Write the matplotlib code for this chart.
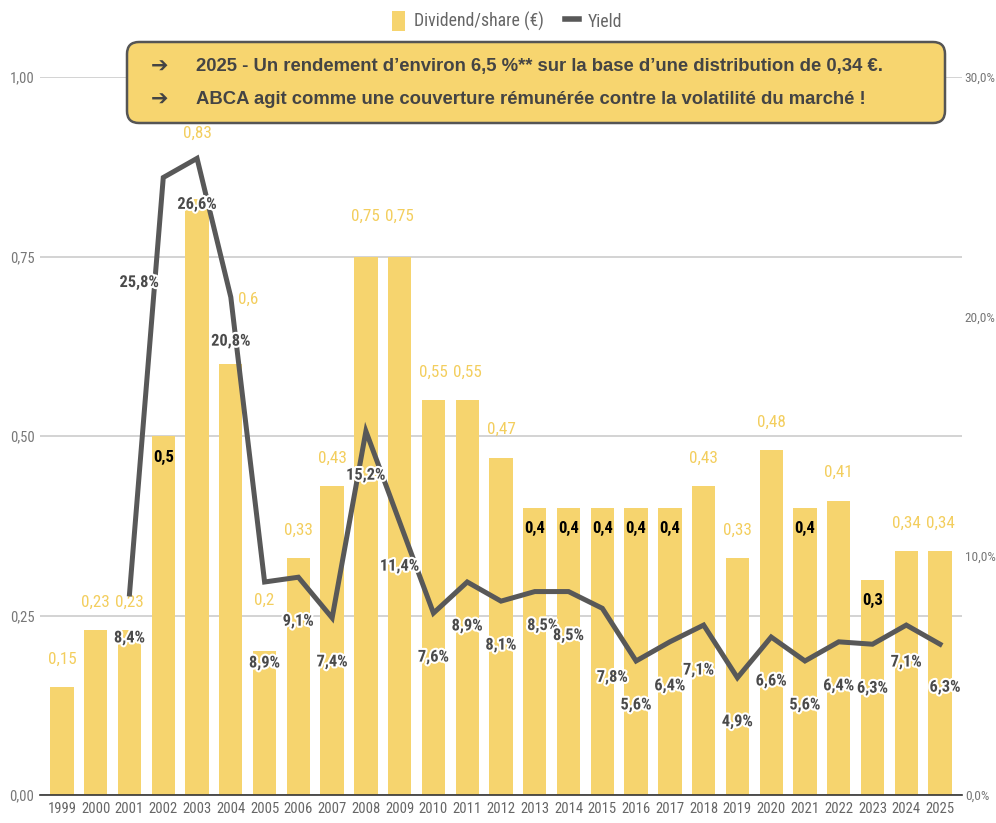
import numpy as np
import matplotlib
matplotlib.use("Agg")
import matplotlib.pyplot as plt
from matplotlib import font_manager as fm
from matplotlib.patches import FancyBboxPatch, Patch
from matplotlib.lines import Line2D
import matplotlib.patheffects as pe

years = [str(y) for y in range(1999, 2026)]
dividend = [0.15, 0.23, 0.23, 0.5, 0.83, 0.6, 0.2, 0.33, 0.43, 0.75, 0.75, 0.55, 0.55,
            0.47, 0.4, 0.4, 0.4, 0.4, 0.4, 0.43, 0.33, 0.48, 0.4, 0.41, 0.3, 0.34, 0.34]
yield_pct = [np.nan, np.nan, 8.4, 25.8, 26.6, 20.8, 8.9, 9.1, 7.4, 15.2, 11.4, 7.6, 8.9,
             8.1, 8.5, 8.5, 7.8, 5.6, 6.4, 7.1, 4.9, 6.6, 5.6, 6.4, 6.3, 7.1, 6.3]
left_ticks = [0.0, 0.25, 0.5, 0.75, 1.0]
right_ticks = [0, 10, 20, 30]
legend_labels = ["Dividend/share (€)", "Yield"]
box_lines = ["2025 - Un rendement d’environ 6,5 %** sur la base d’une distribution de 0,34 €.",
             "ABCA agit comme une couverture rémunérée contre la volatilité du marché !"]

# label styling (layout only)
inside_black = {"2002", "2013", "2014", "2015", "2016", "2017", "2021", "2023"}
div_offset_px = {"2003": (0, 66), "2004": (17, 65), "2005": (0, 51), "2008": (0, 40),
                 "2009": (0, 40)}
yld_offset_px = {"2002": (-24, -105), "2003": (0, -46), "2005": (0, -81), "2013": (8, -34),
                 "2015": (10, -69), "2018": (-5, -45), "2024": (0, -37), "2025": (5, -43)}

BAR = "#F6D46E"
LAB = "#F3CE5E"
LINE = "#585858"
GRAY = "#777777"
PX = 0.72  # points per pixel at dpi 100

names = {f.name for f in fm.fontManager.ttflist}
if "Roboto Condensed" in names:
    NARROW = ["Roboto Condensed", "DejaVu Sans"]
    SC = 1.0
else:
    NARROW = ["Roboto", "DejaVu Sans"]
    SC = 0.88

W, H = 996, 823
fig = plt.figure(figsize=(W / 100, H / 100), dpi=100)
ax = fig.add_axes([40 / W, 1 - 795 / H, (962 - 40) / W, (795 - 77) / H])
x = np.arange(len(years))

ax.bar(x, dividend, width=0.69, color=BAR, zorder=2)
ax.set_xlim(-0.65, len(years) - 1 + 0.65)
ax.set_ylim(0, 1.0)
ax.set_yticks(left_ticks)
ax.set_yticklabels([f"{v:.2f}".replace(".", ",") for v in left_ticks], family=NARROW,
                   fontsize=10.5 * SC, color=GRAY)
ax.set_xticks(x)
ax.set_xticklabels(years, family=NARROW, fontsize=10.5 * SC, color="#666666")
ax.tick_params(axis="both", length=0, pad=4)
ax.tick_params(axis="x", pad=5)
ax.grid(axis="y", color="#CCCCCC", linewidth=1.2, zorder=0)
ax.set_axisbelow(True)
for s in ["top", "right", "left"]:
    ax.spines[s].set_visible(False)
ax.spines["bottom"].set_color("#333333")
ax.spines["bottom"].set_linewidth(1.2)
ax.spines["bottom"].set_zorder(3)

# dividend labels
for i, (yr, v) in enumerate(zip(years, dividend)):
    lab = f"{v:g}".replace(".", ",")
    if yr in inside_black:
        ax.annotate(lab, (i, v), xytext=(0, -21 * PX), textcoords="offset points",
                    ha="center", va="center", fontsize=12 * SC, fontweight="bold",
                    family=NARROW, color="black", zorder=6)
    else:
        dx, dy = div_offset_px.get(yr, (0, 28))
        ax.annotate(lab, (i, v), xytext=(dx * PX, dy * PX), textcoords="offset points",
                    ha="center", va="center", fontsize=12.3 * SC, family=NARROW,
                    color=LAB, zorder=6, annotation_clip=False)

ax2 = ax.twinx()
ax2.set_position(ax.get_position())
ax2.set_ylim(0, 30)
ax2.plot(x, yield_pct, color=LINE, linewidth=3.6, zorder=4, solid_joinstyle="miter")
ax2.set_yticks(right_ticks)
ax2.set_yticklabels([f"{v:.1f}".replace(".", ",") + "%" for v in right_ticks], family=NARROW,
                    fontsize=9.6 * SC, color=GRAY)
ax2.tick_params(axis="y", length=0, pad=2)
for s in ax2.spines.values():
    s.set_visible(False)

for i, (yr, v) in enumerate(zip(years, yield_pct)):
    if np.isnan(v):
        continue
    dx, dy = yld_offset_px.get(yr, (0, -44))
    ax2.annotate(f"{v:.1f}".replace(".", ",") + "%", (i, v), xytext=(dx * PX, dy * PX),
                 textcoords="offset points", ha="center", va="center", fontsize=11.8 * SC,
                 fontweight="bold", family=NARROW, color="#4A4A4A", zorder=7,
                 path_effects=[pe.withStroke(linewidth=3, foreground="white")])

# annotation box (pixel coords converted to inches)
box = FancyBboxPatch((127 / 100, (H - 123) / 100), 818 / 100, 81 / 100,
                     boxstyle="round,pad=0,rounding_size=0.12", transform=fig.dpi_scale_trans,
                     facecolor="#F7D56F", edgecolor="#555555", linewidth=1.8, zorder=10)
fig.patches.append(box)
for j, (line, ypx) in enumerate(zip(box_lines, [67, 100])):
    fig.text(160 / W, 1 - ypx / H, "➔", family="DejaVu Sans", fontsize=15, fontweight="bold",
             color="#444444", ha="center", va="center", zorder=11)
    fig.text(196 / W, 1 - ypx / H, line, family=["Liberation Sans", "DejaVu Sans"], fontsize=13.35,
             fontweight="bold", color="#444444", ha="left", va="center", zorder=11)

# legend
handles = [Patch(facecolor=BAR, edgecolor="none"),
           Line2D([0], [0], color=LINE, linewidth=4)]
leg = fig.legend(handles, legend_labels, loc="center", bbox_to_anchor=(507 / W, 1 - 21 / H),
                 ncol=2, frameon=False, prop={"family": NARROW, "size": 12.8 * SC},
                 handlelength=0.75, handleheight=1.4, handletextpad=0.5, columnspacing=1.2)
for t in leg.get_texts():
    t.set_color("#666666")

fig.savefig("out.png", dpi=100)
